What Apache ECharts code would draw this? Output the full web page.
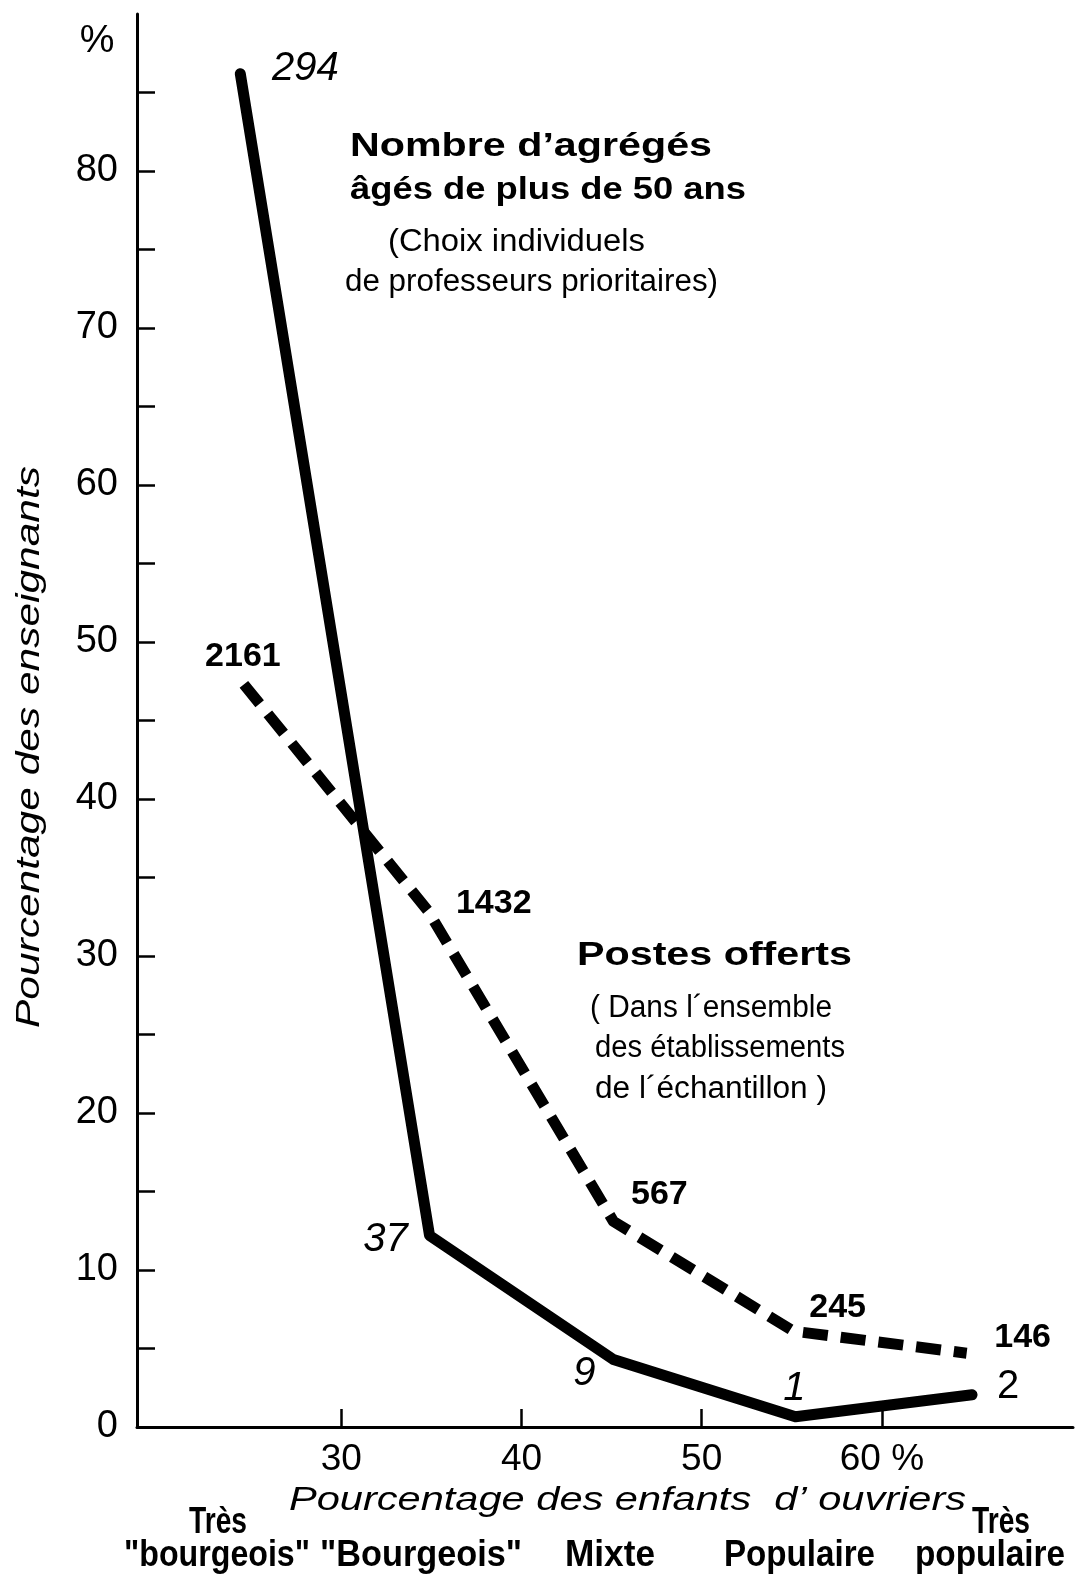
<!DOCTYPE html>
<html>
<head>
<meta charset="utf-8">
<script src="https://cdn.jsdelivr.net/npm/echarts@6/dist/echarts.min.js"></script>
<style>
html,body{margin:0;padding:0;background:#fff;}
#chart{width:1083px;height:1578px;}
</style>
</head>
<body>
<div id="chart"></div>
<script>
// ---- data ----
const agregesX = [24.4, 34.9, 45.1, 55.2, 65.0];
const agregesY = [86.2, 12.2, 4.3, 0.65, 2.05];
const agregesCounts = [294, 37, 9, 1, 2];
const postesX = [24.6, 34.8, 45.1, 55.1, 64.7];
const postesY = [47.3, 32.9, 13.1, 6.1, 4.7];
const postesCounts = [2161, 1432, 567, 245, 146];
const xTickValues = [30, 40, 50, 60];
const yLabelValues = [0, 10, 20, 30, 40, 50, 60, 70, 80];
const yTickValues = [5, 10, 15, 20, 25, 30, 35, 40, 45, 50, 55, 60, 65, 70, 75, 80, 85];
const categories = [['Très', '"bourgeois"'], ['"Bourgeois"'], ['Mixte'], ['Populaire'], ['Très', 'populaire']];

// ---- layout (not data) ----
const FONT = '"Liberation Sans", Arial, Helvetica, sans-serif';
const agregesLabelOffsets = [[65, -5], [-44, 4], [-29, 14], [-1, -28], [36, -8]];
const postesLabelOffsets = [[-1, -28], [66, -7], [46, -27], [44, -24], [56, -16]];
const catLayout = [
  [[189, 247, 1523], [124, 310, 1556]],
  [[320, 522, 1556]],
  [[565, 655, 1556]],
  [[724, 875, 1556]],
  [[972, 1030, 1523], [915, 1065, 1556]]
];

const mctx = document.createElement('canvas').getContext('2d');
function fitText(text, font, left, right, cy, rot) {
  mctx.font = font;
  const w = mctx.measureText(text).width;
  const target = right - left;
  const el = {
    type: 'text',
    x: rot ? cy : (left + right) / 2,
    y: rot ? (left + right) / 2 : cy,
    scaleX: target / w,
    silent: true,
    style: { text: text, font: font, fill: '#000', align: 'center', verticalAlign: 'middle' }
  };
  if (rot) el.rotation = Math.PI / 2;
  return el;
}

const graphics = [
  { type: 'text', x: 97, y: 41, silent: true, style: { text: '%', font: '39px ' + FONT, fill: '#000', align: 'center', verticalAlign: 'middle' } },
  fitText("Nombre d\u2019agrégés", 'bold 33px ' + FONT, 350, 712, 147),
  fitText('âgés de plus de 50 ans', 'bold 31px ' + FONT, 350, 746, 190),
  fitText('(Choix individuels', '31px ' + FONT, 388, 645, 242),
  fitText('de professeurs prioritaires)', '31px ' + FONT, 345, 718, 282),
  fitText('Postes offerts', 'bold 33px ' + FONT, 577, 852, 956),
  fitText('( Dans l\u00b4ensemble', '31px ' + FONT, 590, 832, 1008),
  fitText('des établissements', '31px ' + FONT, 595, 845, 1048),
  fitText('de l\u00b4échantillon )', '31px ' + FONT, 595, 827, 1089),
  fitText('Pourcentage des enfants  d\u2019 ouvriers', 'italic 33px ' + FONT, 289, 966, 1501),
  fitText('Pourcentage des enseignants', 'italic 33px ' + FONT, 466, 1028, 30, true)
];
categories.forEach((lines, i) => {
  lines.forEach((ln, j) => {
    const b = catLayout[i][j];
    graphics.push(fitText(ln, 'bold 36px ' + FONT, b[0], b[1], b[2]));
  });
});

function buildData(xs, ys, offsets, extra) {
  return xs.map((x, i) => {
    const lab = Object.assign({ offset: offsets[i] }, extra ? extra[i] : {});
    return { value: [x, ys[i]], label: lab };
  });
}

const chart = echarts.init(document.getElementById('chart'), null, { renderer: 'canvas' });
chart.setOption({
  animation: false,
  backgroundColor: '#fff',
  grid: { left: 137, top: 14, right: 10, bottom: 151, containLabel: false },
  xAxis: {
    type: 'value', min: 18.67, max: 70.6,
    axisLine: { show: true, lineStyle: { color: '#000', width: 3 } },
    axisTick: { show: true, inside: true, length: 18, customValues: xTickValues, lineStyle: { color: '#000', width: 2.5 } },
    axisLabel: { show: true, customValues: xTickValues, margin: 14, color: '#000', fontSize: 37, fontFamily: FONT,
      formatter: v => (v === 60 ? '60 %' : String(v)) },
    splitLine: { show: false }
  },
  yAxis: {
    type: 'value', min: 0, max: 90,
    axisLine: { show: true, lineStyle: { color: '#000', width: 3 } },
    axisTick: { show: true, inside: true, length: 18, customValues: yTickValues, lineStyle: { color: '#000', width: 2.5 } },
    axisLabel: { show: true, customValues: yLabelValues, margin: 19, color: '#000', fontSize: 38, fontFamily: FONT },
    splitLine: { show: false }
  },
  graphic: graphics,
  series: [
    {
      name: 'Agrégés', type: 'line',
      data: buildData(agregesX, agregesY, agregesLabelOffsets, [{}, {}, {}, {}, { fontStyle: 'normal' }]),
      symbol: 'circle', symbolSize: 4, showSymbol: true,
      itemStyle: { color: 'rgba(0,0,0,0)' },
      lineStyle: { color: '#000', width: 11, cap: 'round', join: 'round' },
      label: { show: true, position: 'inside', color: '#000', fontSize: 40, fontStyle: 'italic', fontFamily: FONT,
        formatter: p => String(agregesCounts[p.dataIndex]) },
      emphasis: { disabled: true }, z: 3
    },
    {
      name: 'Postes', type: 'line',
      data: buildData(postesX, postesY, postesLabelOffsets),
      symbol: 'circle', symbolSize: 4, showSymbol: true,
      itemStyle: { color: 'rgba(0,0,0,0)' },
      lineStyle: { color: '#000', width: 11, type: [25, 13], cap: 'butt', join: 'round' },
      label: { show: true, position: 'inside', color: '#000', fontSize: 34, fontWeight: 'bold', fontFamily: FONT,
        formatter: p => String(postesCounts[p.dataIndex]) },
      emphasis: { disabled: true }, z: 2
    }
  ]
});
</script>
</body>
</html>
